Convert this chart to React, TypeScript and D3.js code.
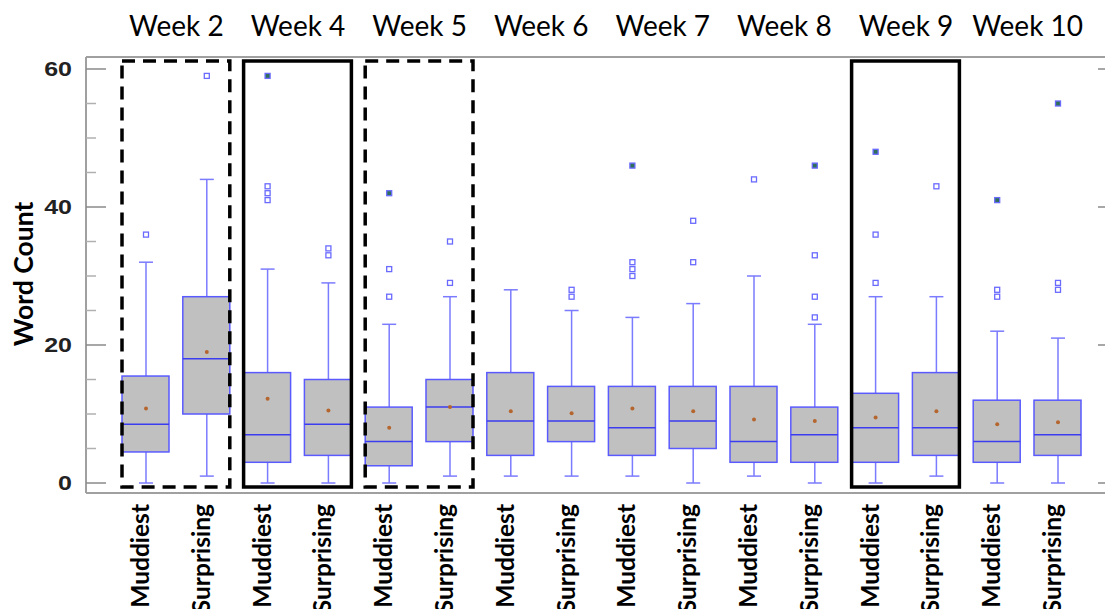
import React from 'react';
import * as d3 from 'd3';

// categories
const weeks = ['Week 2', 'Week 4', 'Week 5', 'Week 6', 'Week 7', 'Week 8', 'Week 9', 'Week 10'];
const kinds = ['Muddiest', 'Surprising'];

// box stats, one entry per week x kind (Muddiest, Surprising, Muddiest, ...)
const lowWhisker = [0, 1, 0, 0, 0, 1, 1, 1, 1, 0, 1, 0, 0, 1, 0, 0];
const q1 = [4.5, 10, 3, 4, 2.5, 6, 4, 6, 4, 5, 3, 3, 3, 4, 3, 4];
const medians = [8.5, 18, 7, 8.5, 6, 11, 9, 9, 8, 9, 6, 7, 8, 8, 6, 7];
const q3 = [15.5, 27, 16, 15, 11, 15, 16, 14, 14, 14, 14, 11, 13, 16, 12, 12];
const highWhisker = [32, 44, 31, 29, 23, 27, 28, 25, 24, 26, 30, 23, 27, 27, 22, 21];
const means = [10.8, 19, 12.2, 10.5, 8, 11, 10.4, 10.1, 10.8, 10.4, 9.2, 9, 9.5, 10.4, 8.5, 8.8];
const outliers = [
  [36], [59], [41, 42, 43], [33, 34], [27, 31], [29, 35], [], [27, 28],
  [30, 31, 32], [32, 38], [44], [24, 27, 33], [29, 36], [43], [27, 28], [28, 29],
];
const farOutliers = [
  [], [], [59], [], [42], [], [], [],
  [46], [], [], [46], [48], [], [41], [55],
];

// highlighted weeks
const dashedWeeks = ['Week 2', 'Week 5'];
const solidWeeks = ['Week 4', 'Week 9'];

const yTicks = [0, 20, 40, 60];
const yMinor = d3.range(0, 61, 5);

const W = 1105;
const H = 609;

export default function App() {
  const plotLeft = 86;
  const plotTop = 57;
  const plotBottom = 493;
  const plotRight = 1112;

  const keys = weeks.flatMap(w => kinds.map(k => w + '|' + k));
  const x = d3.scalePoint<string>().domain(keys).range([146, 1058]);
  const y = d3.scaleLinear().domain([0, 60]).range([483, 69]);

  const boxHalf = 24;
  const capHalf = 7;

  const boxes = keys.map((key, i) => ({
    key,
    kind: kinds[i % 2],
    cx: x(key) as number,
    lo: lowWhisker[i],
    q1: q1[i],
    med: medians[i],
    q3: q3[i],
    hi: highWhisker[i],
    mean: means[i],
    out: outliers[i],
    far: farOutliers[i],
  }));

  const pairCenter = (w: string) =>
    ((x(w + '|Muddiest') as number) + (x(w + '|Surprising') as number)) / 2;

  const frameRect = (w: string, dashed: boolean) => {
    const x0 = (x(w + '|Muddiest') as number) - boxHalf;
    const x1 = (x(w + '|Surprising') as number) + boxHalf - 1;
    return (
      <rect
        key={'hl' + w}
        x={x0}
        y={plotTop + 4}
        width={x1 - x0}
        height={plotBottom - 6 - (plotTop + 4)}
        fill="none"
        stroke="#000"
        strokeWidth={3.5}
        strokeDasharray={dashed ? '13 8' : undefined}
      />
    );
  };

  return (
    <svg
      width={W}
      height={H}
      style={{ position: 'absolute', left: 0, top: 0, background: '#fff' }}
    >
      {/* frame */}
      <g stroke="#a0a0a0" strokeWidth={2} fill="none">
        <line x1={plotLeft} x2={plotRight} y1={plotTop} y2={plotTop} />
        <line x1={plotLeft} x2={plotRight} y1={plotBottom} y2={plotBottom} />
        <line x1={plotLeft} x2={plotLeft} y1={plotTop} y2={plotBottom} />
      </g>

      {/* left ticks */}
      {yMinor.map(t => (
        <line
          key={'lt' + t}
          x1={plotLeft}
          x2={plotLeft + (t % 20 === 0 ? 20 : 10)}
          y1={y(t)}
          y2={y(t)}
          stroke={t % 20 === 0 ? '#8a8a8a' : '#b0b0b0'}
          strokeWidth={1.5}
        />
      ))}
      {/* right ticks */}
      {yTicks.map(t => (
        <line
          key={'rt' + t}
          x1={1098}
          x2={W}
          y1={y(t)}
          y2={y(t)}
          stroke="#8a8a8a"
          strokeWidth={1.5}
        />
      ))}

      {/* tick labels */}
      {yTicks.map(t => (
        <text
          key={'tl' + t}
          x={72}
          y={y(t)}
          dy="0.36em"
          textAnchor="end"
          fontFamily="Liberation Sans, Arial, sans-serif"
          fontWeight="bold"
          fontSize={20}
          fill="#222"
          transform={`translate(72,0) scale(1.25,1) translate(-72,0)`}
        >
          {t}
        </text>
      ))}

      <text
        transform={`translate(33,${(plotTop + plotBottom) / 2 - 1}) rotate(-90)`}
        textAnchor="middle"
        fontFamily="Lato, 'Open Sans', sans-serif"
        fontWeight="bold"
        fontSize={26.5}
        fill="#000"
      >
        Word Count
      </text>

      {/* boxes */}
      {boxes.map(b => (
        <g key={b.key}>
          <line x1={b.cx} x2={b.cx} y1={y(b.hi)} y2={y(b.q3)} stroke="#7b7bff" strokeWidth={1.5} />
          <line x1={b.cx} x2={b.cx} y1={y(b.q1)} y2={y(b.lo)} stroke="#7b7bff" strokeWidth={1.5} />
          <line x1={b.cx - capHalf} x2={b.cx + capHalf} y1={y(b.hi)} y2={y(b.hi)} stroke="#7b7bff" strokeWidth={1.5} />
          <line x1={b.cx - capHalf} x2={b.cx + capHalf} y1={y(b.lo)} y2={y(b.lo)} stroke="#7b7bff" strokeWidth={1.5} />
          <rect
            x={b.cx - boxHalf}
            y={y(b.q3)}
            width={boxHalf * 2 - 1}
            height={y(b.q1) - y(b.q3)}
            fill="#c0c0c0"
            stroke="#5a5aff"
            strokeWidth={1.5}
          />
          <line
            x1={b.cx - boxHalf}
            x2={b.cx + boxHalf - 1}
            y1={y(b.med)}
            y2={y(b.med)}
            stroke="#3c3cf0"
            strokeWidth={1.5}
          />
          <circle cx={b.cx} cy={y(b.mean)} r={2} fill="#b5652e" />
          {b.out.map((o, j) => (
            <rect
              key={'o' + j}
              x={b.cx - 2.5}
              y={y(o) - 2.5}
              width={5}
              height={5}
              fill="#fff"
              stroke="#6a6aff"
              strokeWidth={1.3}
            />
          ))}
          {b.far.map((o, j) => (
            <rect
              key={'f' + j}
              x={b.cx - 2.5}
              y={y(o) - 2.5}
              width={5}
              height={5}
              fill="#2f6f5a"
              stroke="#6a6aff"
              strokeWidth={1.3}
            />
          ))}
          <text
            transform={`translate(${b.cx + 3},504) rotate(-90)`}
            textAnchor="end"
            fontFamily="Lato, 'Open Sans', sans-serif"
            fontWeight="bold"
            fontSize={24.5}
            fill="#000"
          >
            {b.kind}
          </text>
        </g>
      ))}

      {/* highlight frames */}
      {dashedWeeks.map(w => frameRect(w, true))}
      {solidWeeks.map(w => frameRect(w, false))}

      {/* week labels */}
      {weeks.map(w => (
        <text
          key={'wk' + w}
          x={pairCenter(w)}
          y={36}
          textAnchor="middle"
          fontFamily="Lato, 'Open Sans', sans-serif"
          fontSize={28}
          fill="#000"
        >
          {w}
        </text>
      ))}
    </svg>
  );
}
